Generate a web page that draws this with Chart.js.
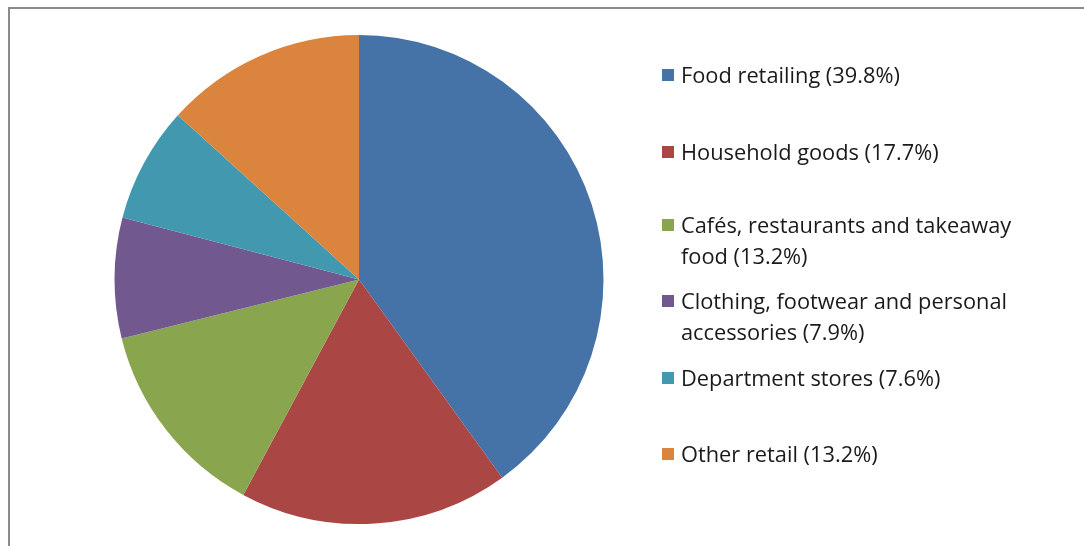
<!DOCTYPE html>
<html>
<head>
<meta charset="utf-8">
<script src="https://cdn.jsdelivr.net/npm/chart.js@4"></script>
<style>
    html, body { margin: 0; padding: 0; background: #fff; }
    .wrap { position: relative; width: 1084px; height: 546px; overflow: hidden; }
    .frame {
        position: absolute; left: 8px; top: 7px; width: 1200px; height: 600px;
        border-left: 2px solid #8a8a8a; border-top: 2px solid #8a8a8a;
    }
    canvas { position: absolute; left: 0; top: 0; }
    .legend { position: absolute; left: 662px; top: 0; font-family: "Open Sans", sans-serif; font-size: 21.8px; color: #1a1a1a; }
    .legend-item { position: absolute; left: 0; width: 420px; white-space: nowrap; }
    .legend-item .box { position: absolute; left: 0; width: 12px; height: 12px; }
    .legend-item .txt { position: absolute; left: 19px; line-height: 31px; }
</style>
</head>
<body>
<div class="wrap">
    <div class="frame"></div>
    <canvas id="pieChart" width="1084" height="546"></canvas>
    <div class="legend" id="legend"></div>
</div>
<script>
// Data
const categories = [
    'Food retailing',
    'Household goods',
    'Cafés, restaurants and takeaway food',
    'Clothing, footwear and personal accessories',
    'Department stores',
    'Other retail'
];
const shares = [39.8, 17.7, 13.2, 7.9, 7.6, 13.2];
const legendLines = [
    ['Food retailing (39.8%)'],
    ['Household goods (17.7%)'],
    ['Cafés, restaurants and takeaway', 'food (13.2%)'],
    ['Clothing, footwear and personal', 'accessories (7.9%)'],
    ['Department stores (7.6%)'],
    ['Other retail (13.2%)']
];
const colors = ['#4573a7', '#aa4644', '#89a54e', '#71588f', '#4298af', '#db843d'];

// legend first-line centres (px)
const legendY = [75, 152, 225, 301, 378, 454];

const ctx = document.getElementById('pieChart').getContext('2d');
new Chart(ctx, {
    type: 'pie',
    data: {
        labels: categories,
        datasets: [{
            data: shares,
            backgroundColor: colors,
            borderWidth: 0
        }]
    },
    options: {
        responsive: false,
        animation: false,
        layout: {
            padding: { left: 114, right: 480, top: 35, bottom: 22 }
        },
        plugins: {
            legend: { display: false },
            tooltip: { enabled: false }
        }
    }
});

// Legend
const legend = document.getElementById('legend');
legend.innerHTML = legendLines.map((lines, i) => `
    <div class="legend-item" style="top:${legendY[i] - 16}px">
        <div class="box" style="top:10px;background:${colors[i]}"></div>
        <div class="txt">${lines.join('<br>')}</div>
    </div>
`).join('');
</script>
</body>
</html>
